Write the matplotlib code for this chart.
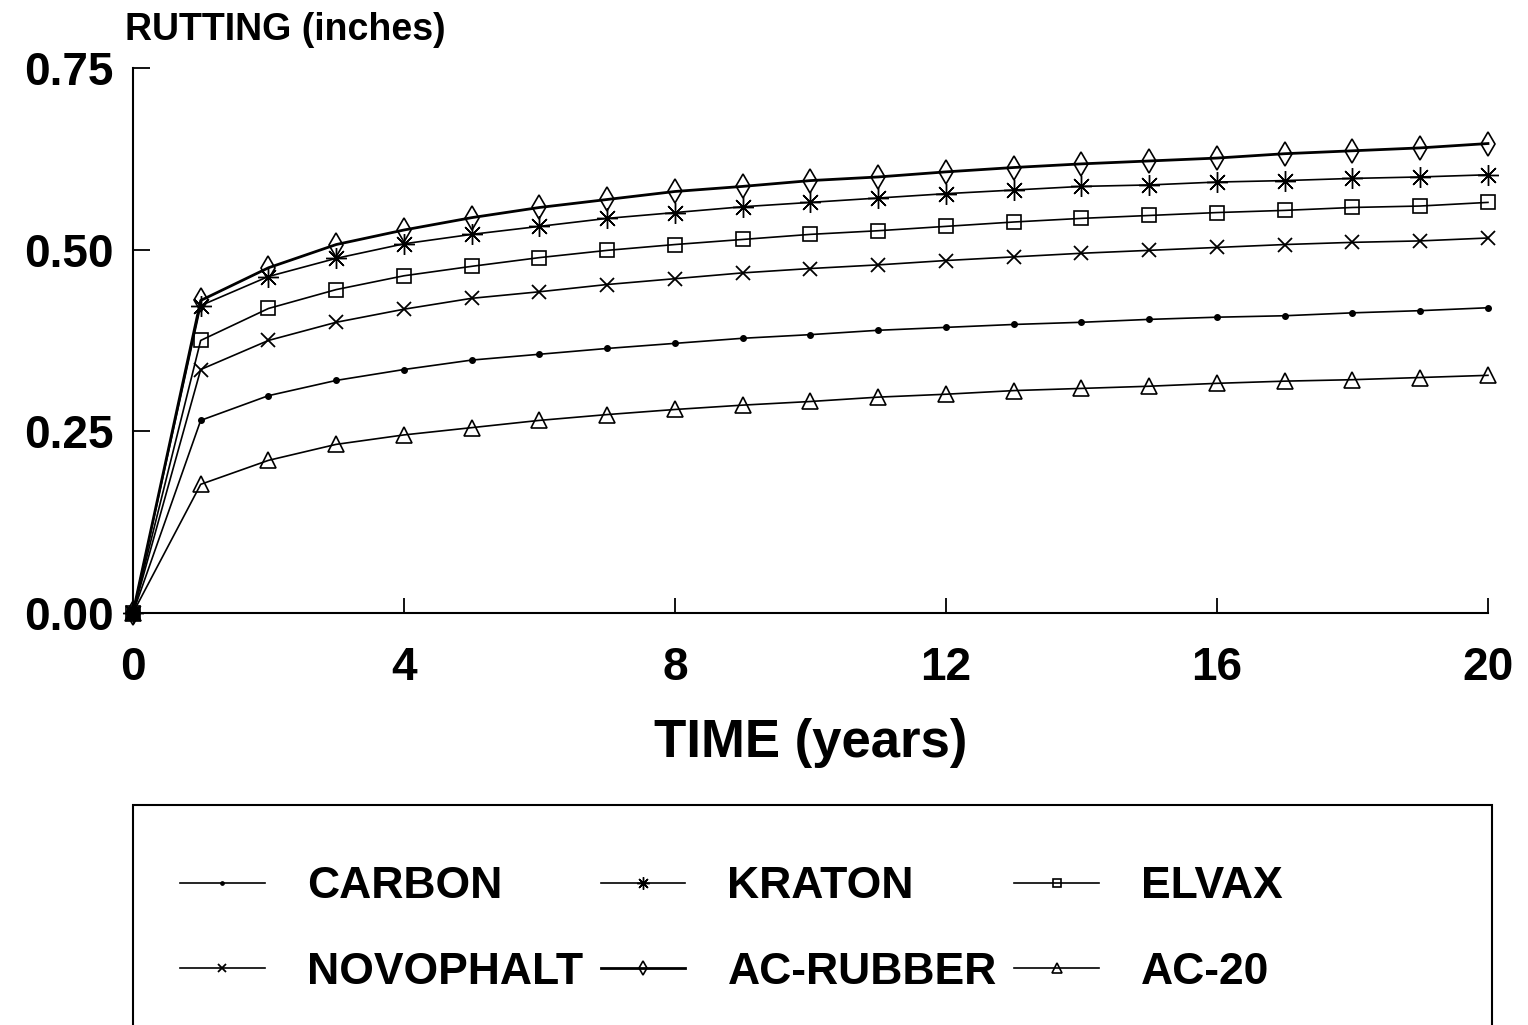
import matplotlib
matplotlib.use("Agg")
from matplotlib import pyplot as plt
from matplotlib.patches import Rectangle

plt.rcParams['font.family'] = ['Liberation Sans', 'DejaVu Sans']

years = list(range(0, 21))

carbon = [0, 0.265, 0.299, 0.320, 0.335, 0.348, 0.356, 0.364, 0.371, 0.378, 0.383,
          0.389, 0.393, 0.397, 0.400, 0.404, 0.407, 0.409, 0.413, 0.416, 0.420]
kraton = [0, 0.423, 0.463, 0.488, 0.508, 0.521, 0.532, 0.543, 0.551, 0.559, 0.565,
          0.571, 0.577, 0.582, 0.587, 0.589, 0.593, 0.595, 0.598, 0.600, 0.603]
elvax = [0, 0.375, 0.419, 0.445, 0.464, 0.477, 0.489, 0.499, 0.507, 0.514, 0.521,
         0.526, 0.532, 0.538, 0.543, 0.547, 0.551, 0.554, 0.558, 0.560, 0.565]
novophalt = [0, 0.335, 0.375, 0.400, 0.418, 0.433, 0.442, 0.452, 0.460, 0.468, 0.474,
             0.479, 0.485, 0.490, 0.495, 0.499, 0.503, 0.507, 0.510, 0.512, 0.516]
ac_rubber = [0, 0.430, 0.475, 0.507, 0.527, 0.544, 0.558, 0.569, 0.580, 0.587, 0.595,
             0.600, 0.607, 0.613, 0.618, 0.622, 0.626, 0.632, 0.636, 0.640, 0.646]
ac20 = [0, 0.177, 0.210, 0.232, 0.245, 0.255, 0.265, 0.273, 0.280, 0.286, 0.291,
        0.297, 0.301, 0.306, 0.309, 0.312, 0.316, 0.319, 0.321, 0.324, 0.327]

x_ticks = [0, 4, 8, 12, 16, 20]
y_ticks = [0.0, 0.25, 0.5, 0.75]

fig = plt.figure(figsize=(15.28, 10.25), dpi=100)
ax = fig.add_axes([0.0870, 0.4020, 0.8868, 0.5317])

kw = dict(color="black", markerfacecolor="none", markeredgecolor="black", clip_on=False)
l1, = ax.plot(years, carbon, marker="o", markersize=4, linewidth=1.2,
              color="black", markerfacecolor="black", markeredgecolor="black", clip_on=False, label="CARBON")
l2, = ax.plot(years, kraton, marker=(8, 2, 0), markersize=15, markeredgewidth=1.0,
              linewidth=1.2, label="KRATON", **kw)
l3, = ax.plot(years, elvax, marker="s", markersize=10.5, markeredgewidth=1.2,
              linewidth=1.2, label="ELVAX", **kw)
l4, = ax.plot(years, novophalt, marker="x", markersize=10, markeredgewidth=1.3,
              linewidth=1.2, label="NOVOPHALT", **kw)
l5, = ax.plot(years, ac_rubber, marker="d", markersize=12.5, markeredgewidth=1.2,
              linewidth=2.0, label="AC-RUBBER", **kw)
l6, = ax.plot(years, ac20, marker="^", markersize=12, markeredgewidth=1.2,
              linewidth=1.2, label="AC-20", **kw)
ax.plot([0], [0], marker="s", markersize=8, color="black", clip_on=False)

ax.set_xlim(0, 20)
ax.set_ylim(0, 0.75)
ax.spines["top"].set_visible(False)
ax.spines["right"].set_visible(False)
ax.spines["left"].set_linewidth(1.5)
ax.spines["bottom"].set_linewidth(1.5)
ax.set_xticks(x_ticks)
ax.set_xticklabels([str(t) for t in x_ticks])
ax.set_yticks(y_ticks)
ax.set_yticklabels(["%.2f" % t for t in y_ticks])
ax.tick_params(axis="x", direction="in", length=11, width=1.3, pad=24, labelsize=33)
ax.tick_params(axis="y", direction="in", length=12, width=1.3, pad=14, labelsize=33)
for lab in ax.get_xticklabels() + ax.get_yticklabels():
    lab.set_fontweight("bold")

ax.set_xlabel("TIME (years)", fontsize=38, fontweight="bold", labelpad=20)
fig.text(125 / 1528, 1 - 30 / 1025, "RUTTING (inches)", fontsize=27, fontweight="bold",
         ha="left", va="center")

# legend box, cut off at the bottom of the page
fig.patches.append(Rectangle((133 / 1528, -0.05), (1492 - 133) / 1528, 1 - 805 / 1025 + 0.05,
                             transform=fig.transFigure, fill=False, edgecolor="black",
                             linewidth=1.5, clip_on=False))
# column-major order so rows read CARBON/KRATON/ELVAX, NOVOPHALT/AC-RUBBER/AC-20
fig.legend(handles=[l1, l4, l2, l5, l3, l6], ncol=3, loc="upper left",
           bbox_to_anchor=(158 / 1528, 1 - 844 / 1025), frameon=False,
           prop={"size": 32, "weight": "bold"}, handlelength=1.9, handletextpad=0.95,
           columnspacing=0.4, labelspacing=1.0, markerscale=0.6, borderpad=0)

fig.savefig("out.png", dpi=100)
